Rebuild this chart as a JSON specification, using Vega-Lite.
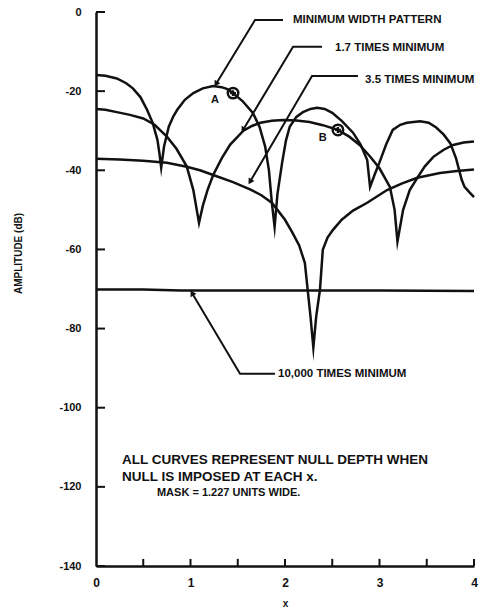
{
  "$schema": "https://vega.github.io/schema/vega-lite/v6.json",
  "width": 378,
  "height": 554,
  "autosize": "none",
  "padding": {"left": 96, "top": 12, "right": 20, "bottom": 43},
  "background": "white",
  "config": {
    "view": {"stroke": null},
    "font": "Liberation Sans",
    "axis": {
      "grid": false,
      "ticks": false,
      "domainColor": "#111",
      "domainWidth": 2.5,
      "labelColor": "#111",
      "labelFont": "Liberation Sans",
      "labelFontWeight": "bold",
      "titleColor": "#111",
      "titleFont": "Liberation Sans",
      "titleFontWeight": "bold"
    }
  },
  "resolve": {"axis": {"x": "independent", "y": "independent"}},
  "datasets": {
    "curves": [
      {"s": "min", "x": 0, "y": -15.9}, {"s": "min", "x": 0.1, "y": -16.1}, {"s": "min", "x": 0.22, "y": -16.8}, {"s": "min", "x": 0.32, "y": -18}, {"s": "min", "x": 0.39, "y": -19.3}, {"s": "min", "x": 0.47, "y": -21.5}, {"s": "min", "x": 0.54, "y": -24.7}, {"s": "min", "x": 0.6, "y": -28}, {"s": "min", "x": 0.65, "y": -32.3}, {"s": "min", "x": 0.67, "y": -35.5}, {"s": "min", "x": 0.69, "y": -39.3}, {"s": "min", "x": 0.72, "y": -34}, {"s": "min", "x": 0.77, "y": -29}, {"s": "min", "x": 0.82, "y": -26.3}, {"s": "min", "x": 0.86, "y": -24.7}, {"s": "min", "x": 0.94, "y": -22.2}, {"s": "min", "x": 1.03, "y": -20.5}, {"s": "min", "x": 1.13, "y": -19.3}, {"s": "min", "x": 1.24, "y": -18.7}, {"s": "min", "x": 1.33, "y": -19}, {"s": "min", "x": 1.39, "y": -19.5}, {"s": "min", "x": 1.45, "y": -20.5}, {"s": "min", "x": 1.55, "y": -22.5}, {"s": "min", "x": 1.66, "y": -25.5}, {"s": "min", "x": 1.73, "y": -29}, {"s": "min", "x": 1.79, "y": -34}, {"s": "min", "x": 1.83, "y": -40}, {"s": "min", "x": 1.86, "y": -48}, {"s": "min", "x": 1.89, "y": -54.3}, {"s": "min", "x": 1.92, "y": -46}, {"s": "min", "x": 1.97, "y": -38}, {"s": "min", "x": 2.01, "y": -32.5}, {"s": "min", "x": 2.05, "y": -29}, {"s": "min", "x": 2.12, "y": -26.5}, {"s": "min", "x": 2.19, "y": -25.3}, {"s": "min", "x": 2.27, "y": -24.5}, {"s": "min", "x": 2.34, "y": -24.2}, {"s": "min", "x": 2.42, "y": -24.5}, {"s": "min", "x": 2.5, "y": -25.5}, {"s": "min", "x": 2.6, "y": -27.5}, {"s": "min", "x": 2.72, "y": -30.5}, {"s": "min", "x": 2.8, "y": -33.5}, {"s": "min", "x": 2.87, "y": -37.4}, {"s": "min", "x": 2.9, "y": -44.2}, {"s": "min", "x": 2.95, "y": -41}, {"s": "min", "x": 3.0, "y": -38}, {"s": "min", "x": 3.07, "y": -33.5}, {"s": "min", "x": 3.14, "y": -29.8}, {"s": "min", "x": 3.22, "y": -28.5}, {"s": "min", "x": 3.29, "y": -28}, {"s": "min", "x": 3.43, "y": -27.6}, {"s": "min", "x": 3.52, "y": -28}, {"s": "min", "x": 3.6, "y": -29.2}, {"s": "min", "x": 3.68, "y": -31}, {"s": "min", "x": 3.75, "y": -33.2}, {"s": "min", "x": 3.81, "y": -37}, {"s": "min", "x": 3.87, "y": -42.4}, {"s": "min", "x": 3.9, "y": -44.2}, {"s": "min", "x": 3.95, "y": -45.5}, {"s": "min", "x": 4.0, "y": -46.8},
      {"s": "x1.7", "x": 0, "y": -24.5}, {"s": "x1.7", "x": 0.1, "y": -24.7}, {"s": "x1.7", "x": 0.22, "y": -25.3}, {"s": "x1.7", "x": 0.36, "y": -26}, {"s": "x1.7", "x": 0.5, "y": -26.9}, {"s": "x1.7", "x": 0.62, "y": -28.5}, {"s": "x1.7", "x": 0.75, "y": -31.5}, {"s": "x1.7", "x": 0.85, "y": -34.5}, {"s": "x1.7", "x": 0.96, "y": -39}, {"s": "x1.7", "x": 1.03, "y": -45}, {"s": "x1.7", "x": 1.09, "y": -53.3}, {"s": "x1.7", "x": 1.13, "y": -49}, {"s": "x1.7", "x": 1.18, "y": -45}, {"s": "x1.7", "x": 1.24, "y": -41.2}, {"s": "x1.7", "x": 1.33, "y": -37}, {"s": "x1.7", "x": 1.42, "y": -33.5}, {"s": "x1.7", "x": 1.56, "y": -30}, {"s": "x1.7", "x": 1.65, "y": -28.8}, {"s": "x1.7", "x": 1.74, "y": -28}, {"s": "x1.7", "x": 1.86, "y": -27.5}, {"s": "x1.7", "x": 1.98, "y": -27.3}, {"s": "x1.7", "x": 2.12, "y": -27.4}, {"s": "x1.7", "x": 2.26, "y": -27.8}, {"s": "x1.7", "x": 2.4, "y": -28.6}, {"s": "x1.7", "x": 2.56, "y": -29.8}, {"s": "x1.7", "x": 2.68, "y": -31.5}, {"s": "x1.7", "x": 2.79, "y": -33.6}, {"s": "x1.7", "x": 2.9, "y": -36.5}, {"s": "x1.7", "x": 3.0, "y": -39.5}, {"s": "x1.7", "x": 3.11, "y": -44.2}, {"s": "x1.7", "x": 3.16, "y": -50}, {"s": "x1.7", "x": 3.19, "y": -58}, {"s": "x1.7", "x": 3.25, "y": -50}, {"s": "x1.7", "x": 3.32, "y": -45}, {"s": "x1.7", "x": 3.4, "y": -41.9}, {"s": "x1.7", "x": 3.48, "y": -39}, {"s": "x1.7", "x": 3.57, "y": -36.6}, {"s": "x1.7", "x": 3.68, "y": -34.8}, {"s": "x1.7", "x": 3.78, "y": -33.6}, {"s": "x1.7", "x": 3.89, "y": -33}, {"s": "x1.7", "x": 4.0, "y": -32.7},
      {"s": "x3.5", "x": 0, "y": -37.1}, {"s": "x3.5", "x": 0.25, "y": -37.3}, {"s": "x3.5", "x": 0.5, "y": -37.6}, {"s": "x3.5", "x": 0.75, "y": -38.1}, {"s": "x3.5", "x": 0.96, "y": -39.1}, {"s": "x3.5", "x": 1.1, "y": -40}, {"s": "x3.5", "x": 1.24, "y": -41.2}, {"s": "x3.5", "x": 1.45, "y": -43}, {"s": "x3.5", "x": 1.63, "y": -44.8}, {"s": "x3.5", "x": 1.75, "y": -46.3}, {"s": "x3.5", "x": 1.86, "y": -48.2}, {"s": "x3.5", "x": 1.92, "y": -50}, {"s": "x3.5", "x": 2.0, "y": -52.5}, {"s": "x3.5", "x": 2.08, "y": -55.8}, {"s": "x3.5", "x": 2.15, "y": -59}, {"s": "x3.5", "x": 2.21, "y": -63.4}, {"s": "x3.5", "x": 2.24, "y": -70.2}, {"s": "x3.5", "x": 2.27, "y": -77}, {"s": "x3.5", "x": 2.3, "y": -84.8}, {"s": "x3.5", "x": 2.33, "y": -77}, {"s": "x3.5", "x": 2.37, "y": -70.2}, {"s": "x3.5", "x": 2.4, "y": -60.1}, {"s": "x3.5", "x": 2.45, "y": -57}, {"s": "x3.5", "x": 2.51, "y": -55}, {"s": "x3.5", "x": 2.6, "y": -52.5}, {"s": "x3.5", "x": 2.72, "y": -50.2}, {"s": "x3.5", "x": 2.87, "y": -48.2}, {"s": "x3.5", "x": 3.08, "y": -45}, {"s": "x3.5", "x": 3.24, "y": -43.3}, {"s": "x3.5", "x": 3.4, "y": -41.9}, {"s": "x3.5", "x": 3.64, "y": -40.7}, {"s": "x3.5", "x": 3.82, "y": -40.2}, {"s": "x3.5", "x": 4.0, "y": -39.8},
      {"s": "x10000", "x": 0, "y": -70.1}, {"s": "x10000", "x": 0.5, "y": -70.1}, {"s": "x10000", "x": 0.9, "y": -70.4}, {"s": "x10000", "x": 2, "y": -70.4}, {"s": "x10000", "x": 3, "y": -70.4}, {"s": "x10000", "x": 4, "y": -70.5}
    ],
    "leaders": [
      {"k": "min", "i": 0, "x": 1.979, "y": -2.0}, {"k": "min", "i": 1, "x": 1.683, "y": -2.0}, {"k": "min", "i": 2, "x": 1.27, "y": -18.2},
      {"k": "x1.7", "i": 0, "x": 2.392, "y": -8.8}, {"k": "x1.7", "i": 1, "x": 2.085, "y": -8.8}, {"k": "x1.7", "i": 2, "x": 1.556, "y": -29.8},
      {"k": "x3.5", "i": 0, "x": 2.772, "y": -16.2}, {"k": "x3.5", "i": 1, "x": 2.286, "y": -16.2}, {"k": "x3.5", "i": 2, "x": 1.63, "y": -42.9},
      {"k": "x10000", "i": 0, "x": 1.894, "y": -91.4}, {"k": "x10000", "i": 1, "x": 1.524, "y": -91.4}, {"k": "x10000", "i": 2, "x": 1.016, "y": -71.0}
    ],
    "arrows": [
      {"k": "min", "dir": "down", "x": 1.27, "y": -18.2},
      {"k": "x1.7", "dir": "down", "x": 1.556, "y": -29.8},
      {"k": "x3.5", "dir": "down", "x": 1.63, "y": -42.9},
      {"k": "x10000", "dir": "up", "x": 1.016, "y": -71.0}
    ],
    "labels": [
      {"t": "MINIMUM WIDTH PATTERN", "kind": "lead", "x": 2.085, "y": -2.0},
      {"t": "1.7 TIMES MINIMUM", "kind": "lead", "x": 2.529, "y": -9.1},
      {"t": "3.5 TIMES MINIMUM", "kind": "lead", "x": 2.847, "y": -17.2},
      {"t": "10,000 TIMES MINIMUM", "kind": "lead", "x": 1.926, "y": -91.4},
      {"t": "ALL CURVES REPRESENT NULL DEPTH WHEN", "kind": "note", "x": 0.275, "y": -113.1},
      {"t": "NULL IS IMPOSED AT EACH x.", "kind": "note", "x": 0.275, "y": -117.4},
      {"t": "MASK = 1.227 UNITS WIDE.", "kind": "mask", "x": 0.645, "y": -121.5},
      {"t": "A", "kind": "pt", "x": 1.26, "y": -22.3},
      {"t": "B", "kind": "pt", "x": 2.4, "y": -31.8}
    ],
    "markers": [
      {"p": "A", "x": 1.45, "y": -20.5},
      {"p": "B", "x": 2.56, "y": -29.8}
    ],
    "yticks": [{"v": 0}, {"v": -20}, {"v": -40}, {"v": -60}, {"v": -80}, {"v": -100}, {"v": -120}, {"v": -140}],
    "xticks": [{"v": 0.5}, {"v": 1}, {"v": 1.5}, {"v": 2}, {"v": 2.5}, {"v": 3}, {"v": 3.5}, {"v": 4}]
  },
  "layer": [
    {
      "data": {"name": "curves"},
      "mark": {"type": "line", "stroke": "#111", "strokeWidth": 2.5, "strokeJoin": "miter", "strokeMiterLimit": 20},
      "encoding": {
        "x": {
          "field": "x", "type": "quantitative",
          "scale": {"domain": [0, 4], "nice": false, "zero": false},
          "axis": {
            "orient": "bottom",
            "title": "x",
            "titleFontSize": 10,
            "titleY": 37,
            "titleBaseline": "middle",
            "values": [0, 1, 2, 3, 4],
            "labelExpr": "'' + datum.value",
            "labelPadding": 11,
            "labelFontSize": 12,
            "labelFlush": false
          }
        },
        "y": {
          "field": "y", "type": "quantitative",
          "scale": {"domain": [-140, 0], "nice": false, "zero": false},
          "axis": {
            "orient": "left",
            "title": "AMPLITUDE (dB)",
            "titleFontSize": 10,
            "titleX": -78,
            "titleY": 241,
            "titleAngle": -90,
            "titleAlign": "center",
            "titleBaseline": "middle",
            "values": [0, -20, -40, -60, -80, -100, -120, -140],
            "labelExpr": "'' + datum.value",
            "labelPadding": 15,
            "labelFontSize": 11,
            "labelFlush": false
          }
        },
        "detail": {"field": "s"}
      }
    },
    {
      "data": {"name": "yticks"},
      "mark": {"type": "rule", "stroke": "#111", "strokeWidth": 2},
      "encoding": {
        "y": {"field": "v", "type": "quantitative", "axis": null},
        "x": {"datum": 0, "type": "quantitative", "axis": null},
        "x2": {"datum": 0.095}
      }
    },
    {
      "data": {"name": "xticks"},
      "mark": {"type": "rule", "stroke": "#111", "strokeWidth": 2},
      "encoding": {
        "x": {"field": "v", "type": "quantitative", "axis": null},
        "y": {"datum": -140, "type": "quantitative", "axis": null},
        "y2": {"datum": -138.2}
      }
    },
    {
      "data": {"name": "leaders"},
      "mark": {"type": "line", "stroke": "#111", "strokeWidth": 2},
      "encoding": {
        "x": {"field": "x", "type": "quantitative", "axis": null},
        "y": {"field": "y", "type": "quantitative", "axis": null},
        "detail": {"field": "k"},
        "order": {"field": "i"}
      }
    },
    {
      "data": {"name": "arrows"},
      "transform": [{"filter": "datum.dir === 'down'"}],
      "mark": {"type": "point", "shape": "triangle-up", "angle": 211, "filled": true, "fill": "#111", "size": 45, "opacity": 1},
      "encoding": {"x": {"field": "x", "type": "quantitative", "axis": null}, "y": {"field": "y", "type": "quantitative", "axis": null}}
    },
    {
      "data": {"name": "arrows"},
      "transform": [{"filter": "datum.dir === 'up'"}],
      "mark": {"type": "point", "shape": "triangle-up", "angle": 330, "filled": true, "fill": "#111", "size": 45, "opacity": 1},
      "encoding": {"x": {"field": "x", "type": "quantitative", "axis": null}, "y": {"field": "y", "type": "quantitative", "axis": null}}
    },
    {
      "data": {"name": "markers"},
      "mark": {"type": "point", "shape": "circle", "filled": false, "stroke": "#111", "strokeWidth": 2.5, "size": 110, "opacity": 1},
      "encoding": {"x": {"field": "x", "type": "quantitative", "axis": null}, "y": {"field": "y", "type": "quantitative", "axis": null}}
    },
    {
      "data": {"name": "markers"},
      "mark": {"type": "point", "shape": "cross", "filled": true, "fill": "#111", "size": 35, "opacity": 1},
      "encoding": {"x": {"field": "x", "type": "quantitative", "axis": null}, "y": {"field": "y", "type": "quantitative", "axis": null}}
    },
    {
      "data": {"name": "labels"},
      "transform": [{"filter": "datum.kind === 'lead'"}],
      "mark": {"type": "text", "align": "left", "baseline": "middle", "font": "Liberation Sans", "fontWeight": "bold", "fontSize": 11.5, "fill": "#111"},
      "encoding": {"x": {"field": "x", "type": "quantitative", "axis": null}, "y": {"field": "y", "type": "quantitative", "axis": null}, "text": {"field": "t"}}
    },
    {
      "data": {"name": "labels"},
      "transform": [{"filter": "datum.kind === 'note'"}],
      "mark": {"type": "text", "align": "left", "baseline": "middle", "font": "Liberation Sans", "fontWeight": "bold", "fontSize": 13.5, "fill": "#111"},
      "encoding": {"x": {"field": "x", "type": "quantitative", "axis": null}, "y": {"field": "y", "type": "quantitative", "axis": null}, "text": {"field": "t"}}
    },
    {
      "data": {"name": "labels"},
      "transform": [{"filter": "datum.kind === 'mask'"}],
      "mark": {"type": "text", "align": "left", "baseline": "middle", "font": "Liberation Sans", "fontWeight": "bold", "fontSize": 11, "fill": "#111"},
      "encoding": {"x": {"field": "x", "type": "quantitative", "axis": null}, "y": {"field": "y", "type": "quantitative", "axis": null}, "text": {"field": "t"}}
    },
    {
      "data": {"name": "labels"},
      "transform": [{"filter": "datum.kind === 'pt'"}],
      "mark": {"type": "text", "align": "center", "baseline": "middle", "font": "Liberation Sans", "fontWeight": "bold", "fontSize": 11, "fill": "#111"},
      "encoding": {"x": {"field": "x", "type": "quantitative", "axis": null}, "y": {"field": "y", "type": "quantitative", "axis": null}, "text": {"field": "t"}}
    }
  ]
}
